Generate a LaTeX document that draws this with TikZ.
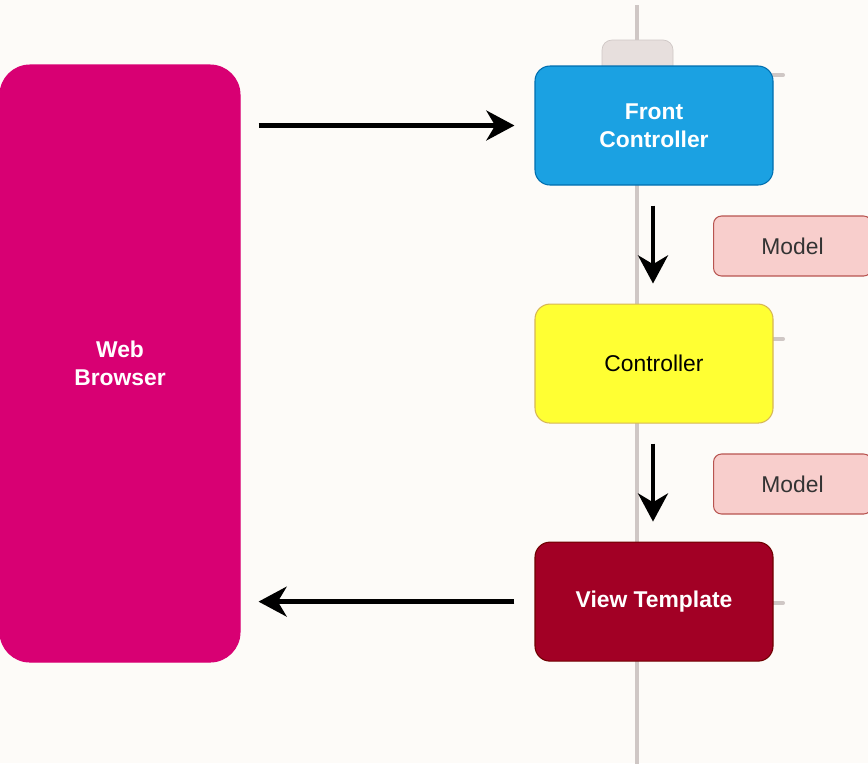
\documentclass[tikz,border=0pt]{standalone}
\usepackage{fontspec}
\setmainfont{Liberation Sans}
\usetikzlibrary{arrows.meta,positioning}
\definecolor{paper}{RGB}{253,251,248}
\definecolor{rail}{RGB}{207,199,197}
\definecolor{railbox}{RGB}{231,223,221}
\definecolor{magenta}{RGB}{216,0,115}
\definecolor{skyblue}{RGB}{27,161,226}
\definecolor{skyline}{RGB}{0,110,175}
\definecolor{lemon}{RGB}{255,255,51}
\definecolor{lemonline}{RGB}{214,182,86}
\definecolor{wine}{RGB}{162,0,37}
\definecolor{wineline}{RGB}{111,0,0}
\definecolor{rose}{RGB}{248,206,204}
\definecolor{roseline}{RGB}{184,84,80}
\definecolor{ink}{RGB}{51,51,51}

\begin{document}
\begin{tikzpicture}[
  stage/.style={
    draw,
    semithick,
    rounded corners=0.3cm,
    minimum width=4.76cm,
    minimum height=2.38cm,
    align=center,
    font=\fontsize{13}{16}\selectfont
  },
  tag/.style={
    draw=roseline,
    fill=rose,
    semithick,
    rounded corners=0.16cm,
    minimum width=3.16cm,
    minimum height=1.2cm,
    text=ink,
    font=\fontsize{13}{16}\selectfont
  },
  flow/.style={
    line width=2.6pt,
    -{Stealth[length=16pt,width=17pt,inset=5pt]},
    shorten <=0.4cm,
    shorten >=0.4cm
  },
  stub/.style={rail,line width=2.3pt,line cap=round}
]
\fill[paper] (0,0) rectangle (17.36,-15.26);
\useasboundingbox (0,0) rectangle (17.36,-15.26);

% lifeline behind the server side
\draw[rail,line width=2.3pt] (12.74,-0.1) -- (12.74,-15.4);
\draw[rail,fill=railbox,rounded corners=0.2cm] (12.04,-2) -- (12.04,-0.8) -- (13.46,-0.8) -- (13.46,-2);
\draw[stub] (15.46,-1.5) -- (15.66,-1.5);
\draw[stub] (15.46,-6.78) -- (15.66,-6.78);
\draw[stub] (15.46,-12.06) -- (15.66,-12.06);

% client
\node[stage,draw=magenta,fill=magenta,text=white,font=\fontsize{13}{16}\selectfont\bfseries,
  minimum width=4.8cm,minimum height=11.94cm,rounded corners=0.6cm] (wb) at (2.4,-7.27) {Web\\Browser};

% request pipeline
\node[stage,draw=skyline,fill=skyblue,text=white,font=\fontsize{13}{16}\selectfont\bfseries] (fc) at (13.08,-2.51) {Front\\Controller};
\node[stage,draw=lemonline,fill=lemon,text=black,below=2.36cm of fc] (ctl) {Controller};
\node[stage,draw=wineline,fill=wine,text=white,font=\fontsize{13}{16}\selectfont\bfseries,below=2.36cm of ctl] (vt) {View Template};

\node[tag,anchor=west] (m1) at (14.26,-4.92) {Model};
\node[tag,anchor=west] (m2) at (14.26,-9.68) {Model};

\draw[flow,shorten <=0.36cm] (wb.east |- fc.west) -- (fc.west);
\draw[flow] ([xshift=-0.02cm]fc.south) -- ([xshift=-0.02cm]ctl.north);
\draw[flow] ([xshift=-0.02cm]ctl.south) -- ([xshift=-0.02cm]vt.north);
\draw[flow,shorten >=0.36cm] (vt.west) -- (wb.east |- vt.west);
\end{tikzpicture}
\end{document}
